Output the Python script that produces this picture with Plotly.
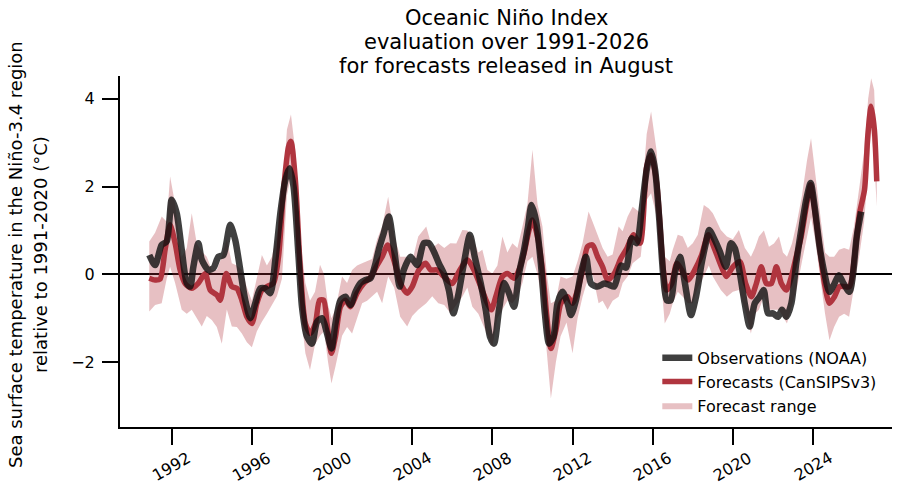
import plotly.graph_objects as go

# Observations (NOAA) - decimal year, ONI value
obs_x = [1990.88, 1991.17, 1991.5, 1991.75, 1992.0, 1992.25, 1992.5, 1992.75, 1992.92, 1993.08,
         1993.33, 1993.5, 1993.83, 1994.08, 1994.33, 1994.58, 1994.92, 1995.17, 1995.42, 1995.67,
         1995.92, 1996.17, 1996.42, 1996.67, 1996.92, 1997.17, 1997.42, 1997.67, 1997.88, 1998.08,
         1998.33, 1998.5, 1998.75, 1999.0, 1999.25, 1999.5, 1999.75, 1999.97, 2000.17, 2000.42,
         2000.67, 2000.92, 2001.17, 2001.42, 2001.67, 2001.92, 2002.17, 2002.33, 2002.58, 2002.83,
         2003.08, 2003.38, 2003.58, 2003.92, 2004.25, 2004.58, 2004.83, 2005.08, 2005.33, 2005.58,
         2005.83, 2006.05, 2006.28, 2006.58, 2006.88, 2007.12, 2007.42, 2007.67, 2007.88, 2008.08,
         2008.33, 2008.58, 2008.83, 2009.08, 2009.33, 2009.58, 2009.78, 2009.95, 2010.17, 2010.42,
         2010.62, 2010.83, 2011.05, 2011.25, 2011.5, 2011.75, 2011.92, 2012.17, 2012.42, 2012.67,
         2012.92, 2013.25, 2013.58, 2013.83, 2014.08, 2014.42, 2014.67, 2014.95, 2015.2, 2015.45,
         2015.7, 2015.92, 2016.12, 2016.33, 2016.53, 2016.7, 2016.9, 2017.1, 2017.36, 2017.61,
         2017.91, 2018.16, 2018.44, 2018.65, 2018.82, 2019.1, 2019.35, 2019.65, 2019.9, 2020.1,
         2020.35, 2020.59, 2020.84, 2021.09, 2021.34, 2021.54, 2021.75, 2022.0, 2022.25, 2022.45,
         2022.67, 2022.92, 2023.16, 2023.41, 2023.66, 2023.88, 2024.08, 2024.33, 2024.57, 2024.82,
         2025.07, 2025.29, 2025.52, 2025.82, 2025.98, 2026.18, 2026.4]
obs_y = [0.44, 0.21, 0.67, 0.75, 1.70, 1.39, 0.56, -0.20, -0.28, 0.17,
         0.71, 0.33, 0.10, 0.14, 0.40, 0.44, 1.13, 0.78, 0.10, -0.59,
         -1.00, -0.66, -0.32, -0.32, -0.43, 0.33, 1.39, 2.15, 2.42, 2.00,
         0.40, -0.74, -1.42, -1.58, -1.08, -1.00, -1.35, -1.69, -1.12, -0.59,
         -0.51, -0.70, -0.40, -0.20, -0.13, -0.09, 0.25, 0.56, 0.94, 1.32,
         0.63, -0.28, 0.10, 0.40, 0.21, 0.71, 0.71, 0.52, 0.25, 0.02,
         -0.36, -0.89, -0.51, 0.25, 0.90, 0.40, -0.21, -0.81, -1.42, -1.58,
         -0.81, -0.20, -0.43, -0.74, 0.02, 0.56, 1.09, 1.58, 1.24, 0.25,
         -0.89, -1.58, -1.42, -0.66, -0.40, -0.66, -0.93, -0.59, 0.02, 0.40,
         -0.21, -0.28, -0.21, -0.24, -0.28, 0.20, 0.15, 0.82, 0.71, 1.47,
         2.38, 2.80, 2.38, 1.24, -0.05, -0.59, -0.59, 0.02, 0.40, -0.21,
         -0.93, -0.51, 0.25, 0.71, 1.01, 0.78, 0.52, 0.17, 0.71, 0.59,
         0.02, -0.66, -1.19, -0.66, -0.51, -0.36, -0.89, -0.89, -0.97, -0.81,
         -0.97, -0.66, 0.25, 1.01, 1.70, 2.08, 1.54, 0.63, 0.02, -0.40,
         -0.21, -0.02, -0.21, -0.40, -0.05, 0.86, 1.43]

# Forecasts (CanSIPSv3)
fc_x = [1990.88, 1991.17, 1991.42, 1991.67, 1991.92, 1992.17, 1992.42, 1992.67, 1993.0, 1993.33,
        1993.67, 1993.92, 1994.25, 1994.42, 1994.72, 1995.0, 1995.25, 1995.5, 1995.75, 1996.0,
        1996.25, 1996.5, 1996.75, 1997.08, 1997.33, 1997.58, 1997.83, 1997.95, 1998.17, 1998.42,
        1998.67, 1998.92, 1999.17, 1999.38, 1999.58, 1999.75, 1999.97, 2000.17, 2000.42, 2000.67,
        2000.92, 2001.25, 2001.58, 2001.92, 2002.25, 2002.5, 2002.78, 2003.08, 2003.42, 2003.75,
        2004.0, 2004.33, 2004.67, 2004.92, 2005.25, 2005.58, 2006.0, 2006.33, 2006.75, 2007.08,
        2007.42, 2007.75, 2007.95, 2008.17, 2008.5, 2008.75, 2009.08, 2009.33, 2009.58, 2009.83,
        2010.0, 2010.25, 2010.5, 2010.72, 2010.92, 2011.17, 2011.42, 2011.75, 2012.0, 2012.25,
        2012.5, 2012.75, 2013.0, 2013.25, 2013.5, 2013.75, 2014.08, 2014.42, 2014.72, 2015.04,
        2015.37, 2015.7, 2015.92, 2016.2, 2016.53, 2016.7, 2016.95, 2017.2, 2017.44, 2017.77,
        2018.1, 2018.44, 2018.77, 2019.1, 2019.43, 2019.68, 2020.0, 2020.35, 2020.64, 2020.92,
        2021.17, 2021.42, 2021.67, 2021.92, 2022.17, 2022.42, 2022.67, 2022.92, 2023.16, 2023.41,
        2023.66, 2023.88, 2024.08, 2024.33, 2024.57, 2024.82, 2025.07, 2025.32, 2025.57, 2025.82,
        2026.07, 2026.32, 2026.57, 2026.73, 2026.9, 2027.06, 2027.18]
fc_y = [-0.09, -0.13, -0.11, 0.56, 1.13, 0.71, 0.10, -0.21, -0.32, -0.20,
        0.02, -0.36, -0.47, -0.59, 0.02, -0.28, -0.32, -0.59, -0.97, -1.12,
        -0.66, -0.36, -0.28, -0.20, 0.40, 1.93, 2.91, 3.03, 2.15, 0.10,
        -1.12, -1.35, -1.12, -0.59, -0.59, -1.12, -1.80, -1.42, -0.74, -0.59,
        -0.74, -0.43, -0.21, -0.07, 0.21, 0.40, 0.67, 0.33, -0.21, -0.43,
        -0.28, 0.10, 0.25, 0.10, 0.10, -0.05, -0.21, 0.06, 0.33, 0.10,
        -0.28, -0.66, -0.81, -0.51, -0.05, 0.02, -0.09, 0.10, 0.48, 1.01,
        1.24, 0.86, 0.10, -0.97, -1.69, -1.27, -0.66, -0.51, -0.66, -0.36,
        0.10, 0.63, 0.67, 0.40, 0.17, -0.13, 0.02, 0.37, 0.60, 0.90,
        0.71, 2.46, 2.72, 2.08, 0.10, -0.36, -0.21, 0.25, 0.10, -0.13,
        0.10, 0.44, 0.90, 0.56, 0.17, -0.05, 0.17, 0.29, -0.21, -0.51,
        -0.21, 0.17, -0.21, -0.21, 0.17, -0.21, -0.36, -0.05, 0.40, 0.86,
        1.54, 2.04, 1.47, 0.63, -0.21, -0.66, -0.51, -0.28, -0.28, -0.28,
        0.40, 1.39, 1.93, 3.14, 3.83, 3.30, 2.12]

# Forecast range (ensemble min / max)
rng_x = [1990.88, 1991.17, 1991.5, 1991.75, 1991.92, 1992.17, 1992.5, 1992.75, 1993.0, 1993.25,
         1993.5, 1993.75, 1994.0, 1994.25, 1994.5, 1994.75, 1995.0, 1995.25, 1995.5, 1995.75,
         1996.0, 1996.25, 1996.5, 1996.75, 1997.0, 1997.25, 1997.5, 1997.75, 1997.95, 1998.17,
         1998.42, 1998.67, 1998.9, 1999.15, 1999.4, 1999.6, 1999.8, 1999.97, 2000.17, 2000.5,
         2000.75, 2001.0, 2001.25, 2001.5, 2001.75, 2002.0, 2002.25, 2002.5, 2002.8, 2003.1,
         2003.4, 2003.75, 2004.0, 2004.3, 2004.7, 2005.0, 2005.3, 2005.6, 2005.9, 2006.2,
         2006.5, 2006.75, 2007.0, 2007.3, 2007.5, 2007.75, 2008.0, 2008.25, 2008.5, 2008.75,
         2009.0, 2009.25, 2009.5, 2009.75, 2010.0, 2010.25, 2010.5, 2010.72, 2010.92, 2011.17,
         2011.4, 2011.7, 2012.0, 2012.25, 2012.5, 2012.8, 2013.0, 2013.3, 2013.5, 2013.75,
         2014.0, 2014.3, 2014.5, 2014.75, 2015.0, 2015.4, 2015.7, 2015.92, 2016.2, 2016.4,
         2016.6, 2016.85, 2017.0, 2017.25, 2017.5, 2017.75, 2018.0, 2018.25, 2018.55, 2018.8,
         2019.0, 2019.4, 2019.7, 2020.0, 2020.3, 2020.6, 2020.9, 2021.1, 2021.3, 2021.55,
         2021.8, 2022.05, 2022.3, 2022.5, 2022.7, 2022.95, 2023.2, 2023.45, 2023.7, 2023.9,
         2024.1, 2024.4, 2024.6, 2024.82, 2025.05, 2025.3, 2025.55, 2025.8, 2026.05, 2026.3,
         2026.55, 2026.75, 2026.9, 2027.05, 2027.18]
rng_lo = [-0.85, -0.70, -0.66, -0.10, 0.17, -0.20, -0.81, -0.90, -0.81, -1.00,
          -1.19, -0.95, -1.04, -1.20, -1.58, -0.80, -1.19, -1.20, -1.35, -1.55,
          -1.66, -1.30, -1.08, -0.90, -0.70, -0.50, -0.10, 1.80, 2.23, 1.40,
          -0.80, -1.80, -2.18, -1.60, -1.40, -1.30, -2.00, -2.49, -2.10, -1.40,
          -1.20, -1.35, -1.00, -0.66, -0.60, -0.50, -0.40, -0.66, -0.05, -0.30,
          -0.97, -1.19, -0.95, -0.81, -0.66, -0.50, -0.66, -0.70, -0.89, -0.70,
          -0.51, -0.30, -0.74, -0.90, -1.12, -1.40, -1.65, -1.00, -0.81, -0.60,
          -0.66, -0.50, -0.20, 0.30, 0.40, 0.00, -0.66, -1.80, -2.83, -2.00,
          -1.42, -1.10, -1.80, -1.00, -0.51, -0.05, 0.00, -0.66, -0.60, -0.81,
          -0.60, -0.51, -0.20, -0.05, 0.25, 0.40, 1.70, 1.85, 1.30, 0.00,
          -1.12, -0.90, -0.66, -0.40, -0.51, -0.66, -0.66, -0.30, -0.05, 0.20,
          -0.05, -0.36, -0.51, -0.40, -0.36, -0.80, -1.35, -0.90, -0.81, -0.50,
          -0.81, -0.81, -0.81, -0.97, -1.12, -0.70, -0.30, 0.30, 0.90, 1.30,
          0.80, -0.20, -0.90, -1.50, -1.20, -0.97, -0.90, -0.97, -0.30, 0.40,
          1.20, 2.50, 3.30, 2.60, 1.55]
rng_hi = [0.75, 0.95, 1.32, 1.20, 2.23, 1.60, 0.40, 0.60, 1.39, 0.70,
          0.52, 0.40, 0.10, 0.10, 0.40, 0.80, 0.25, 0.20, 0.10, -0.30,
          -0.60, -0.10, 0.44, 0.20, 0.40, 0.90, 1.60, 3.30, 3.64, 2.80,
          0.80, -0.20, -0.60, -0.40, 0.22, 0.00, -0.70, -1.00, -0.80, -0.05,
          -0.20, 0.10, 0.20, 0.25, 0.30, 0.35, 0.80, 1.09, 1.77, 0.90,
          0.40, 0.40, 0.30, 0.86, 1.09, 0.60, 0.71, 0.60, 0.71, 0.70,
          1.01, 1.00, 0.86, 0.50, 0.56, 0.10, 0.02, 0.20, 0.86, 0.50,
          0.71, 0.60, 1.09, 1.60, 2.84, 1.60, 1.09, 0.00, -0.66, -0.60,
          -0.05, -0.10, -0.05, 0.30, 0.71, 1.43, 1.20, 0.86, 0.60, 0.40,
          0.45, 1.09, 0.98, 1.32, 1.54, 1.40, 3.20, 3.71, 2.80, 1.30,
          0.40, 0.30, 0.56, 0.90, 0.86, 0.60, 0.71, 0.90, 1.58, 1.50,
          1.39, 1.01, 0.86, 0.80, 1.01, 0.60, 0.40, 0.60, 0.86, 1.00,
          0.63, 0.70, 0.86, 0.50, 0.40, 0.70, 1.20, 1.80, 2.60, 3.10,
          2.30, 1.20, 0.50, 0.40, 0.40, 0.56, 0.60, 0.56, 1.10, 2.00,
          2.80, 4.00, 4.47, 4.20, 2.60]

year_ticks = [1992, 1996, 2000, 2004, 2008, 2012, 2016, 2020, 2024]
y_ticks = [-2, 0, 2, 4]
title_lines = ["Oceanic Niño Index", "evaluation over 1991-2026", "for forecasts released in August"]
ytitle_lines = ["Sea surface temperature in the Niño-3.4 region", "relative to 1991-2020 (°C)"]

RED = "#b0353f"
FONT = "DejaVu Sans"

fig = go.Figure()
fig.add_trace(go.Scatter(x=rng_x, y=rng_lo, mode="lines", line=dict(width=0),
                         showlegend=False, hoverinfo="skip"))
fig.add_trace(go.Scatter(x=rng_x, y=rng_hi, mode="lines", line=dict(width=0),
                         fill="tonexty", fillcolor="rgba(176,48,56,0.3)",
                         name="Forecast range", legendrank=3))
fig.add_trace(go.Scatter(x=fc_x, y=fc_y, mode="lines",
                         line=dict(color=RED, width=5.5, shape="spline", smoothing=0.7),
                         name="Forecasts (CanSIPSv3)", legendrank=2))
fig.add_trace(go.Scatter(x=obs_x, y=obs_y, mode="lines",
                         line=dict(color="rgba(15,15,15,0.8)", width=6.5, shape="spline", smoothing=0.7),
                         name="Observations (NOAA)", legendrank=1))

annotations = []
# title lines (plot area: y 76..427 px)
for i, t in enumerate(title_lines):
    ypx = 18 + 24 * i
    annotations.append(dict(text=t, xref="paper", yref="paper", x=0.5, y=(427 - ypx) / 351,
                            xanchor="center", yanchor="middle", showarrow=False,
                            font=dict(family=FONT, size=21, color="black")))
# y-axis title lines
for i, t in enumerate(ytitle_lines):
    xpx = 15 + 25 * i
    annotations.append(dict(text=t, textangle=-90, xref="paper", yref="paper",
                            x=(xpx - 120) / 772, y=0.49, xanchor="center", yanchor="middle",
                            showarrow=False, font=dict(family=FONT, size=18, color="black")))
# x tick labels (rotated, centred under ticks)
for yr in year_ticks:
    annotations.append(dict(text=str(yr), textangle=-30, xref="x", yref="paper", x=yr,
                            y=(427 - 466.5) / 351, xanchor="center", yanchor="middle",
                            showarrow=False, font=dict(family=FONT, size=16, color="black")))

fig.update_layout(
    width=900, height=489,
    paper_bgcolor="white", plot_bgcolor="white",
    margin=dict(l=120, r=8, t=76, b=62, autoexpand=False),
    font=dict(family=FONT, size=16, color="black"),
    xaxis=dict(range=[1989.42, 2027.94], tickvals=year_ticks, showticklabels=False,
               ticks="outside", ticklen=16, tickwidth=2, tickcolor="black", automargin=False,
               showline=True, linecolor="black", linewidth=2, showgrid=False, zeroline=False),
    yaxis=dict(range=[-3.48, 4.52], tickvals=y_ticks, ticks="outside", ticklen=16, tickwidth=2,
               tickcolor="black", showline=True, linecolor="black", linewidth=2, showgrid=False,
               automargin=False, zeroline=True, zerolinecolor="black", zerolinewidth=2,
               tickfont=dict(size=16), ticklabelstandoff=4),
    legend=dict(x=0.696, y=0.012, xanchor="left", yanchor="bottom", bgcolor="rgba(255,255,255,0)",
                font=dict(size=16), tracegroupgap=0, traceorder="normal"),
    annotations=annotations,
)

fig.write_html("out.html", config={"displayModeBar": False},
               post_script="document.body.style.margin='0';")
